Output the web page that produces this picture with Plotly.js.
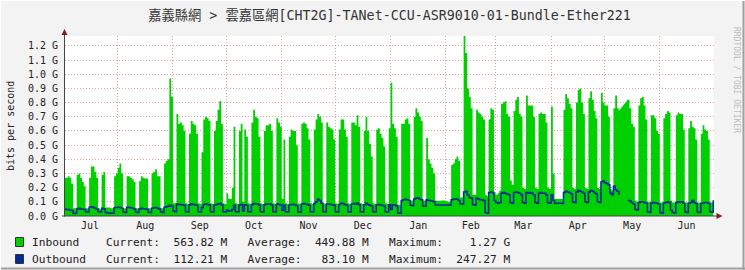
<!DOCTYPE html>
<html><head><meta charset="utf-8">
<script src="https://cdn.plot.ly/plotly-3.0.1.min.js"></script>
<style>html,body{margin:0;padding:0;background:#f3f3f3;}#chart{width:745px;height:270px;}</style>
</head><body><div id="chart"></div>
<script>
// First day of the series (one value per day, Monday 2018-07-02 .. 2019-07-01)
const startDate = '2018-07-02';

// Daily average inbound traffic, Mbit/s (one row per week, Mon..Sun)
const inboundMbps = [
  270,270,280,270,230,55,55,
  290,300,270,240,210,55,55,
  270,350,350,310,270,55,50,
  290,310,60,60,60,55,55,
  280,300,340,370,300,55,55,
  280,280,270,260,240,55,55,
  245,280,270,265,265,55,55,
  300,310,330,280,280,55,55,
  370,390,400,970,840,90,90,
  720,650,660,640,600,90,85,
  580,670,650,640,580,90,85,
  450,680,700,690,670,90,85,
  600,670,750,810,650,90,85,
  160,120,120,200,630,90,85,
  600,650,100,610,560,90,85,
  660,750,700,690,560,90,85,
  600,640,640,650,600,90,85,
  690,660,630,120,540,90,85,
  560,610,600,600,500,90,85,
  650,660,650,620,540,90,85,
  610,680,720,700,660,90,85,
  660,630,620,610,540,90,85,
  610,680,680,610,560,90,85,
  660,660,640,710,630,90,85,
  600,700,600,510,420,90,85,
  610,620,580,550,490,90,85,
  620,940,650,620,560,80,80,
  650,650,680,690,650,110,110,
  700,760,730,700,670,110,110,
  550,400,370,340,300,110,105,
  105,110,110,110,105,100,100,
  360,370,400,420,390,130,130,
  1270,1150,900,840,760,150,150,
  750,730,720,700,680,150,140,
  680,760,750,160,150,160,180,
  790,800,810,720,700,250,220,
  740,820,840,720,700,200,190,
  850,780,780,780,700,200,190,
  720,730,720,720,660,200,190,
  770,300,120,120,120,120,120,
  750,860,830,790,760,200,190,
  800,890,900,800,720,200,190,
  830,880,820,740,690,200,190,
  870,800,780,780,700,190,180,
  760,850,760,740,null,null,null,
  null,820,760,650,630,110,100,
  780,830,840,780,680,100,100,
  710,710,690,600,580,95,95,
  690,720,740,730,110,95,95,
  710,730,720,720,610,95,95,
  620,670,630,620,540,95,95,
  580,640,610,600,540,95,95,
  564
];

// Daily average outbound traffic, Mbit/s
const outboundMbps = [
  48,45,45,40,38,18,20,
  50,55,50,48,45,30,28,
  62,65,60,55,50,30,28,
  55,52,25,22,22,20,20,
  58,60,62,60,55,28,25,
  62,60,58,55,50,28,25,
  50,55,52,50,48,26,25,
  55,58,60,55,50,28,25,
  62,65,68,75,70,35,30,
  85,82,80,80,75,30,28,
  80,85,82,80,75,30,28,
  60,82,85,82,78,30,28,
  78,82,85,88,80,30,28,
  40,35,35,45,75,30,28,
  78,82,35,80,75,30,28,
  82,88,85,85,78,30,28,
  80,85,85,85,80,30,28,
  85,82,80,40,75,30,28,
  78,82,82,80,72,28,26,
  85,88,85,82,75,30,28,
  88,100,118,110,90,30,28,
  85,85,82,80,75,30,28,
  82,90,88,82,78,30,28,
  85,88,85,92,82,30,28,
  80,90,82,75,70,30,28,
  80,82,78,75,70,30,28,
  80,45,80,78,70,22,20,
  110,115,118,115,110,75,72,
  120,125,128,120,115,70,70,
  115,110,108,105,100,78,78,
  78,78,78,78,78,78,78,
  115,118,120,118,110,85,85,
  170,175,150,130,125,80,78,
  125,120,115,115,110,25,20,
  165,170,165,110,95,90,95,
  160,165,160,155,150,95,90,
  165,170,165,160,150,95,90,
  165,160,165,160,150,95,90,
  160,165,160,160,150,95,90,
  150,110,90,90,90,90,88,
  165,175,170,165,155,100,95,
  170,180,175,170,160,100,95,
  170,180,175,165,155,100,95,
  240,247,235,230,220,160,150,
  210,185,175,150,null,null,null,
  null,110,105,95,85,45,42,
  95,100,100,95,90,30,25,
  90,95,92,90,85,25,20,
  92,95,100,95,40,25,22,
  95,100,98,100,90,28,25,
  90,95,110,95,88,28,25,
  88,92,95,95,90,30,28,
  112
];

const yTickVals = [0,100,200,300,400,500,600,700,800,900,1000,1100,1200];
const yTickText = ['0.0 G','0.1 G','0.2 G','0.3 G','0.4 G','0.5 G','0.6 G','0.7 G','0.8 G','0.9 G','1.0 G','1.1 G','1.2 G'];

const titleText = '嘉義縣網 > 雲嘉區網[CHT2G]-TANet-CCU-ASR9010-01-Bundle-Ether221';
const legendRows = [
  'Inbound    Current:  563.82 M   Average:  449.88 M   Maximum:    1.27 G',
  'Outbound   Current:  112.21 M   Average:   83.10 M   Maximum:  247.27 M'
];
const inColor = '#00CF00', outColor = '#002A97';

// dates for each daily sample
const dates = inboundMbps.map((_, i) => {
  const d = new Date(startDate + 'T00:00:00Z');
  d.setUTCDate(d.getUTCDate() + i);
  return d.toISOString().slice(0, 10);
});

// pixel -> paper helpers (plot area 65..714 x 36..216)
const L = 65, R = 714, T = 36, B = 216;
const px = x => (x - L) / (R - L);
const py = y => (B - y) / (B - T);

const mono = 'DejaVu Sans Mono, monospace';
const grid = 'rgba(225,120,120,0.7)';

const shapes = [
  {type:'line', xref:'paper', yref:'paper', x0:px(62), x1:px(717), y0:py(216), y1:py(216), line:{color:'#444', width:1}, layer:'above'},
  {type:'line', xref:'paper', yref:'paper', x0:px(64.5), x1:px(64.5), y0:py(216.5), y1:py(33), line:{color:'#444', width:1}, layer:'above'},
  {type:'path', xref:'paper', yref:'paper', path:`M ${px(61.5)} ${py(35)} L ${px(67.5)} ${py(35)} L ${px(64.5)} ${py(29)} Z`, fillcolor:'#7f1f1f', line:{width:0}, layer:'above'},
  {type:'path', xref:'paper', yref:'paper', path:`M ${px(716.5)} ${py(213)} L ${px(716.5)} ${py(219)} L ${px(722.5)} ${py(216)} Z`, fillcolor:'#7f1f1f', line:{width:0}, layer:'above'},
  {type:'rect', xref:'paper', yref:'paper', x0:px(15.5), x1:px(23.5), y0:py(237.5), y1:py(246.5), fillcolor:inColor, line:{color:'#333', width:1}},
  {type:'rect', xref:'paper', yref:'paper', x0:px(15.5), x1:px(23.5), y0:py(254.5), y1:py(263.5), fillcolor:outColor, line:{color:'#333', width:1}},
  {type:'line', xref:'paper', yref:'paper', x0:px(743.5), x1:px(743.5), y0:py(0), y1:py(270), line:{color:'#a0a0a0', width:2}},
  {type:'line', xref:'paper', yref:'paper', x0:px(0), x1:px(745), y0:py(268.5), y1:py(268.5), line:{color:'#a0a0a0', width:2}},
  {type:'line', xref:'paper', yref:'paper', x0:px(0.5), x1:px(0.5), y0:py(0), y1:py(270), line:{color:'#ffffff', width:1}},
  {type:'line', xref:'paper', yref:'paper', x0:px(0), x1:px(745), y0:py(0.5), y1:py(0.5), line:{color:'#ffffff', width:1}}
];

const annotations = [
  {xref:'paper', yref:'paper', x:px(10), y:py(126), text:'bits per second', textangle:-90, showarrow:false,
   font:{family:mono, size:10, color:'#222'}, xanchor:'center', yanchor:'middle'},
  {xref:'paper', yref:'paper', x:px(737), y:py(80), text:'RRDTOOL / TOBI OETIKER', textangle:90, showarrow:false,
   font:{family:mono, size:8, color:'#bdbdbd'}, xanchor:'center', yanchor:'middle'}
];
legendRows.forEach((t, i) => annotations.push({
  xref:'paper', yref:'paper', x:px(30), y:py(242 + 17*i), text:t.replace(/ /g, '\u00a0'),
  showarrow:false, xanchor:'left', yanchor:'middle', font:{family:mono, size:11.2, color:'#222'}
}));

const traces = [
  {x:dates, y:inboundMbps, type:'scatter', mode:'lines', line:{shape:'hv', width:0, color:inColor},
   fill:'tozeroy', fillcolor:inColor, connectgaps:false, name:'Inbound', hoverinfo:'skip'},
  {x:dates, y:outboundMbps, type:'scatter', mode:'lines', line:{shape:'hv', width:1.5, color:outColor},
   connectgaps:false, name:'Outbound', hoverinfo:'skip'}
];

const layout = {
  width:745, height:270,
  margin:{l:L, r:745-R, t:T, b:270-B, pad:0},
  paper_bgcolor:'#f3f3f3', plot_bgcolor:'#ffffff',
  showlegend:false,
  title:{text:titleText, x:0.5, xanchor:'center', xref:'paper', y:1-15/270, yref:'container', yanchor:'middle',
         font:{family:"DejaVu Sans Mono, 'Noto Sans CJK TC', monospace", size:13.3, color:'#333'}},
  xaxis:{type:'date', range:['2018-07-02 11:00','2019-07-01 09:36'], tick0:'2018-07-01', dtick:'M1',
         tickformat:'%b', ticklabelmode:'period', showgrid:true, gridcolor:grid, griddash:'1px,2px', gridwidth:1,
         showline:false, zeroline:false, ticks:'', ticklabelstandoff:2,
         tickfont:{family:mono, size:10, color:'#222'}},
  yaxis:{range:[0,1270], tickvals:yTickVals, ticktext:yTickText, showgrid:true, gridcolor:grid, griddash:'1px,2px',
         gridwidth:1, showline:false, zeroline:false, ticks:'', ticklabelstandoff:6,
         tickfont:{family:mono, size:10, color:'#222'}},
  shapes:shapes, annotations:annotations
};

Plotly.newPlot('chart', traces, layout, {staticPlot:true, displayModeBar:false});
</script>
</body></html>
